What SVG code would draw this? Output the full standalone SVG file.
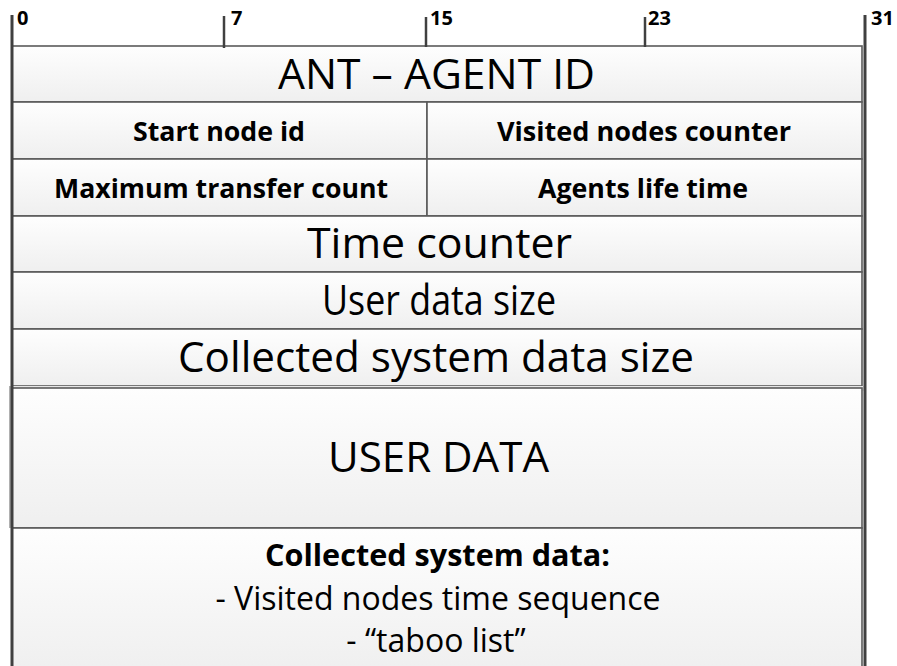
<svg xmlns="http://www.w3.org/2000/svg" width="897" height="666" viewBox="0 0 897 666">
<defs>
<linearGradient id="g" x1="0" y1="0" x2="0" y2="1">
<stop offset="0" stop-color="#fefefe"/>
<stop offset="1" stop-color="#efefef"/>
</linearGradient>
<style>
.box{fill:url(#g);stroke:#5a5a5a;stroke-width:1.6}
.axis{stroke:#404040;stroke-width:3;fill:none}
.tick{stroke:#404040;stroke-width:2.5}
.num{font-family:"Open Sans","Noto Sans",sans-serif;font-weight:bold;font-size:20px;fill:#000}
.big{font-family:"Open Sans","Noto Sans",sans-serif;font-size:42px;fill:#000;text-anchor:middle}
.lbl{font-family:"Open Sans","Noto Sans",sans-serif;font-weight:bold;font-size:27px;fill:#000;text-anchor:middle}
.sub{font-family:"Open Sans","Noto Sans",sans-serif;font-size:32px;fill:#000;text-anchor:middle}
.subb{font-family:"Open Sans","Noto Sans",sans-serif;font-weight:bold;font-size:30px;fill:#000;text-anchor:middle}
</style>
</defs>
<rect width="897" height="666" fill="#ffffff"/>
<g id="agent-id"><rect class="box" x="12" y="46" width="850" height="56"/><text class="big" x="436.5" y="89" textLength="317" lengthAdjust="spacingAndGlyphs">ANT – AGENT ID</text></g>
<g id="start-node-id"><rect class="box" x="12" y="102" width="415" height="57"/><text class="lbl" x="219" y="141" textLength="172" lengthAdjust="spacingAndGlyphs">Start node id</text></g>
<g id="visited-nodes-counter"><rect class="box" x="427" y="102" width="435" height="57"/><text class="lbl" x="644" y="141" textLength="294" lengthAdjust="spacingAndGlyphs">Visited nodes counter</text></g>
<g id="max-transfer-count"><rect class="box" x="12" y="159" width="415" height="57"/><text class="lbl" x="221" y="198" textLength="334" lengthAdjust="spacingAndGlyphs">Maximum transfer count</text></g>
<g id="agents-life-time"><rect class="box" x="427" y="159" width="435" height="57"/><text class="lbl" x="643" y="198" textLength="210" lengthAdjust="spacingAndGlyphs">Agents life time</text></g>
<g id="time-counter"><rect class="box" x="12" y="216" width="850" height="56"/><text class="big" x="439.5" y="258" textLength="265" lengthAdjust="spacingAndGlyphs">Time counter</text></g>
<g id="user-data-size"><rect class="box" x="12" y="272" width="850" height="57"/><text class="big" x="439" y="315" textLength="234" lengthAdjust="spacingAndGlyphs">User data size</text></g>
<g id="collected-data-size"><rect class="box" x="12" y="329" width="850" height="57"/><text class="big" x="436" y="372" textLength="516" lengthAdjust="spacingAndGlyphs">Collected system data size</text></g>
<g id="user-data"><rect x="9" y="386" width="856" height="5" fill="#e6e6e6"/><rect x="9" y="386" width="3" height="142" fill="#b0b0b0"/><rect class="box" x="12" y="388" width="850" height="140"/><text class="big" x="438.5" y="472" textLength="221" lengthAdjust="spacingAndGlyphs">USER DATA</text></g>
<g id="collected-data"><rect class="box" x="12" y="528" width="850" height="145"/><text class="subb" x="437.5" y="566" textLength="345" lengthAdjust="spacingAndGlyphs">Collected system data:</text><text class="sub" x="438" y="610">- Visited nodes time sequence</text><text class="sub" x="436" y="652">- “taboo list”</text></g>
<g id="ruler">
<line class="axis" x1="12" y1="15" x2="12" y2="666"/>
<line class="axis" x1="865" y1="15" x2="865" y2="666"/>
<line class="tick" x1="224" y1="16" x2="224" y2="48"/>
<line class="tick" x1="426" y1="17" x2="426" y2="47"/>
<line class="tick" x1="645" y1="17" x2="645" y2="47"/>
<text class="num" x="17" y="25">0</text>
<text class="num" x="231" y="25">7</text>
<text class="num" x="430" y="25">15</text>
<text class="num" x="648" y="25">23</text>
<text class="num" x="871" y="25">31</text>
</g>
<g id="connectors"/>
</svg>
